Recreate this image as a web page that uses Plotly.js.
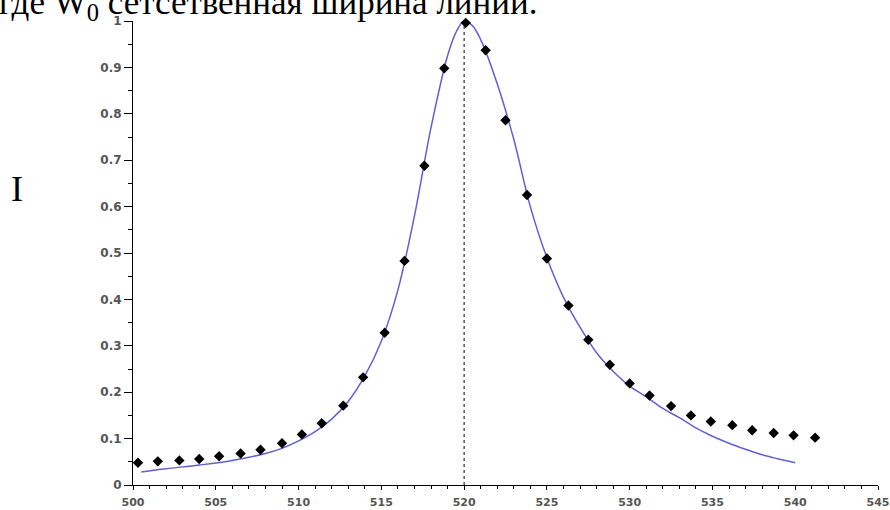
<!DOCTYPE html>
<html>
<head>
<meta charset="utf-8">
<script src="https://cdn.plot.ly/plotly-3.0.1.min.js"></script>
<style>
html,body{margin:0;padding:0;background:#fff;}
#chart{width:890px;height:510px;}
</style>
</head>
<body>
<div id="chart"></div>
<script>
// Measured points (diamonds)
var pointX = [500.3, 501.5, 502.8, 504.0, 505.2, 506.5, 507.7, 509.0, 510.2, 511.4,
              512.7, 513.9, 515.2, 516.4, 517.6, 518.8, 520.1, 521.3, 522.5, 523.8,
              525.0, 526.3, 527.5, 528.8, 530.0, 531.2, 532.5, 533.7, 534.9, 536.2,
              537.4, 538.7, 539.9, 541.2];
var pointY = [0.048, 0.051, 0.053, 0.056, 0.062, 0.068, 0.076, 0.090, 0.109, 0.133,
              0.171, 0.232, 0.328, 0.483, 0.688, 0.898, 0.996, 0.937, 0.786, 0.625,
              0.488, 0.387, 0.313, 0.259, 0.219, 0.193, 0.170, 0.150, 0.137, 0.129,
              0.118, 0.112, 0.107, 0.102];

// Fitted curve
var curveX = [500.5, 502, 504, 506, 508, 509, 510, 511, 512, 513, 514, 515, 516, 517, 518,
              519, 519.5, 520, 520.5, 521, 522, 523, 524, 525, 526, 527, 528, 529, 530,
              531, 532, 533, 534, 535, 536, 537, 538, 539, 540];
var curveY = [0.028, 0.035, 0.043, 0.053, 0.068, 0.079, 0.095, 0.115, 0.142, 0.18, 0.235,
              0.31, 0.42, 0.58, 0.77, 0.925, 0.975, 1.0, 0.99, 0.96, 0.865, 0.745, 0.60,
              0.49, 0.405, 0.34, 0.285, 0.245, 0.213, 0.19, 0.165, 0.145, 0.123, 0.105,
              0.09, 0.077, 0.065, 0.056, 0.048];

var topText = "где W<sub>0</sub> сетсетвенная ширина линии.";
var sideText = "I";

// peak position for the dotted marker line
var peakIdx = curveY.indexOf(Math.max.apply(null, curveY));
var peakX = curveX[peakIdx];

var L = 133, R = 12, T = 21, B = 25, W = 890, H = 510;
var pw = W - L - R, ph = H - T - B;
function px2x(p){ return (p - L) / pw; }
function py2y(p){ return (H - B - p) / ph; }

var traces = [
  {x: curveX, y: curveY, mode: 'lines', type: 'scatter',
   line: {color: '#6060d6', width: 1.5, shape: 'spline', smoothing: 1},
   hoverinfo: 'skip'},
  {x: pointX, y: pointY, mode: 'markers', type: 'scatter',
   marker: {symbol: 'diamond', size: 8, color: '#000'}, cliponaxis: false}
];

var yTickFont = {family: 'DejaVu Sans', size: 12, color: '#555', weight: 'bold'};
var xTickFont = {family: 'DejaVu Sans', size: 11, color: '#555', weight: 'bold'};

var layout = {
  width: W, height: H,
  margin: {l: L, r: R, t: T, b: B, pad: 0},
  paper_bgcolor: '#fff', plot_bgcolor: '#fff',
  showlegend: false,
  xaxis: {range: [500, 545], dtick: 5, tick0: 500, showgrid: false, zeroline: false,
          showline: true, linecolor: '#000', linewidth: 1,
          ticks: 'outside', ticklen: 4, tickcolor: '#000', tickfont: xTickFont,
          ticklabelstandoff: 3, ticklabeloverflow: 'allow',
          minor: {dtick: 1, ticks: 'outside', ticklen: 3, tickcolor: '#000'}},
  yaxis: {range: [0, 1], dtick: 0.1, tick0: 0, showgrid: false, zeroline: false,
          showline: true, linecolor: '#000', linewidth: 1,
          ticks: 'outside', ticklen: 8, tickcolor: '#000', tickfont: yTickFont,
          ticklabeloverflow: 'allow',
          minor: {dtick: 0.05, ticks: 'outside', ticklen: 4, tickcolor: '#000'}},
  shapes: [{type: 'line', xref: 'x', yref: 'y', x0: peakX, x1: peakX, y0: 0, y1: 1,
            line: {color: '#000', width: 1, dash: 'dot'}}],
  annotations: [
    {text: topText, xref: 'paper', yref: 'paper', x: px2x(-3), y: py2y(4),
     xanchor: 'left', yanchor: 'middle', showarrow: false,
     font: {family: 'Liberation Serif', size: 35, color: '#000'}},
    {text: sideText, xref: 'paper', yref: 'paper', x: px2x(17), y: py2y(189),
     xanchor: 'center', yanchor: 'middle', showarrow: false,
     font: {family: 'Liberation Serif', size: 36, color: '#000'}}
  ]
};

Plotly.newPlot('chart', traces, layout, {displayModeBar: false, staticPlot: true});
</script>
</body>
</html>
